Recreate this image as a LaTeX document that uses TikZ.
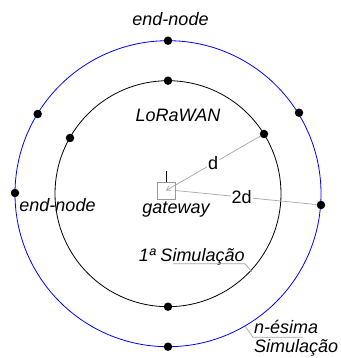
\documentclass[tikz,border=0pt]{standalone}
\usepackage{fontspec}
\setmainfont{Liberation Sans}
\usetikzlibrary{arrows.meta}
\begin{document}
\begin{tikzpicture}[x=1pt,y=-1pt,
  dot/.style={circle,fill=black,inner sep=0pt,minimum size=8.5pt},
  lbl/.style={font=\fontsize{18}{21}\selectfont\itshape,inner sep=0pt},
  dlbl/.style={font=\fontsize{18}{21}\selectfont,fill=white,inner sep=1pt},
  lead/.style={draw=gray!70,line width=0.7pt},
  ring/.style={line width=0.8pt}]
\useasboundingbox (0,0) rectangle (340,358);
\coordinate (c) at (168,193.7);
\draw[ring,black] (c) circle[radius=113];
\draw[ring,blue] (c) circle[radius=153];
% inner dots
\node[dot] (i1) at (168,80.7) {};
\node[dot] (i2) at (264,134) {};
\node[dot] (i3) at (70,138) {};
\node[dot] (i4) at (168,306.7) {};
% outer dots
\node[dot] (o1) at (168,40.7) {};
\node[dot] (o2) at (37.7,114) {};
\node[dot] (o3) at (299,112.7) {};
\node[dot] (o4) at (15,193) {};
\node[dot] (o5) at (321,205) {};
\node[dot] (o6) at (168,346.7) {};
% gateway
\node[draw=gray!80,line width=0.7pt,minimum width=18pt,minimum height=17pt,inner sep=0pt] (gw) at (166,190.5) {};
\coordinate (ant) at (166,171);
\draw[line width=1pt] (gw.north) -- (ant);
\draw[lead,-{Straight Barb[length=4pt,width=5pt]}] (i2) -- node[dlbl,pos=0.5] {d} (gw.center);
\draw[lead] (gw.east) -- node[dlbl,pos=0.47] {2d} (o5);
% texts
\node[lbl,anchor=base] (t1) at (170.5,26) {end-node};
\node[lbl,anchor=base] (t2) at (178,121.5) {LoRaWAN};
\node[lbl,anchor=base] (t3) at (57.5,211) {end-node};
\node[lbl,anchor=base] (t4) at (176,213) {gateway};
\node[lbl,anchor=base] (t5) at (191.7,261) {1ª Simulação};
\node[lbl,anchor=base west] (t6) at (254,333) {n-ésima};
\node[lbl,anchor=base west] (t7) at (254,352) {Simulação};
% leaders
\coordinate (l1a) at (173,263.8);
\coordinate (l1b) at (245,263.8);
\coordinate (l1c) at (252,272);
\draw[lead] (l1a) -- (l1b) -- (l1c);
\coordinate (l2a) at (245,326);
\coordinate (l2b) at (253,337.3);
\coordinate (l2c) at (303,337.3);
\draw[lead] (l2a) -- (l2b) -- (l2c);
\end{tikzpicture}
\end{document}
